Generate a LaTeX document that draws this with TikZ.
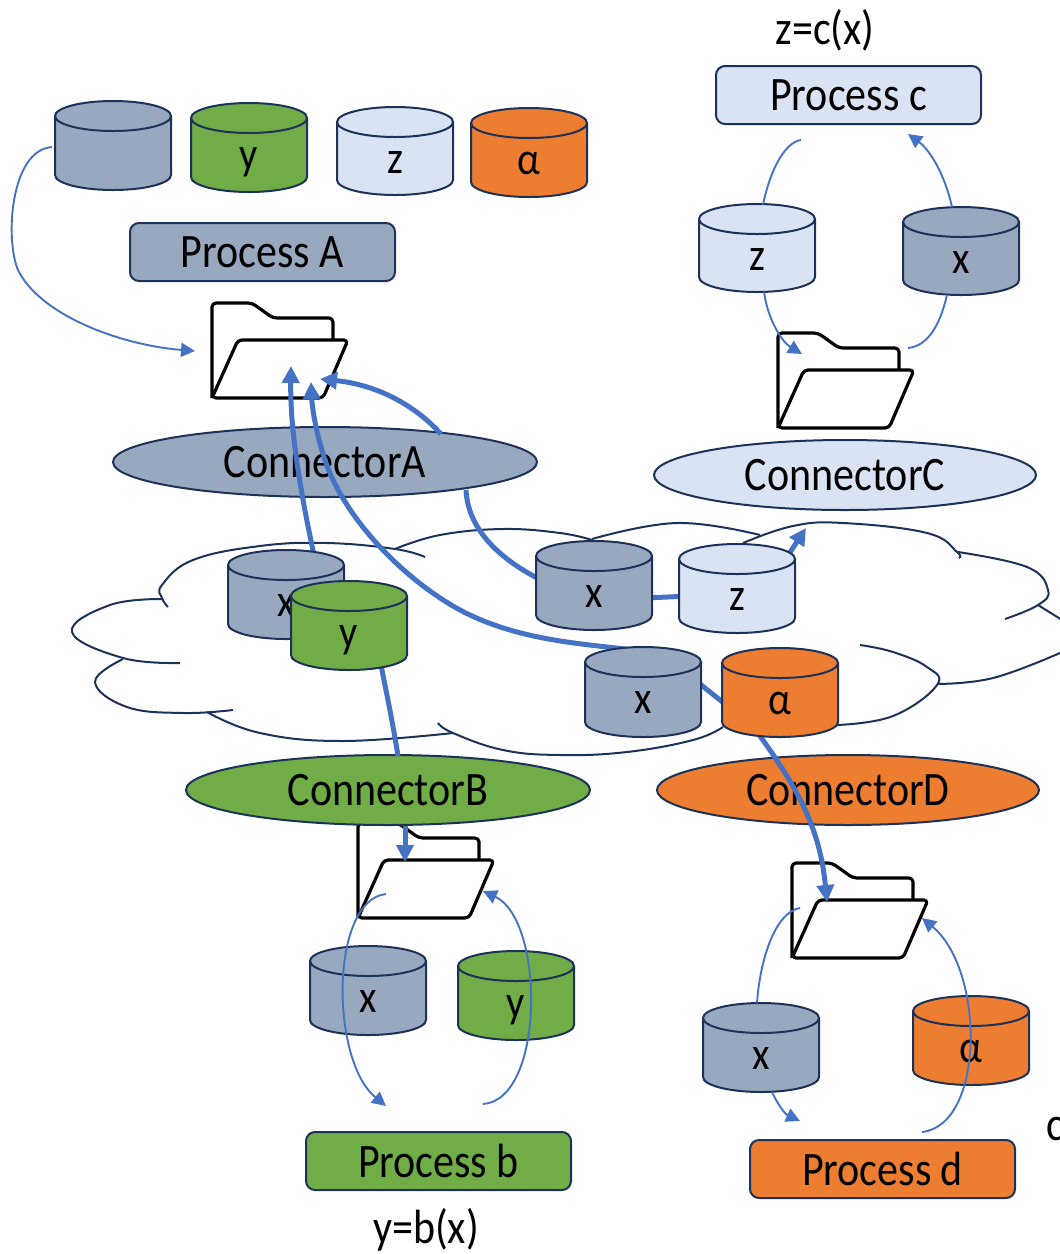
\documentclass[tikz,border=0pt]{standalone}
\usepackage{fontspec}
\setmainfont{Carlito}[FakeStretch=0.875]
\usetikzlibrary{shapes.geometric,arrows.meta}
\definecolor{slateF}{HTML}{98A8BE}
\definecolor{greenF}{HTML}{70AD47}
\definecolor{paleF}{HTML}{DAE3F3}
\definecolor{orangeF}{HTML}{ED7D31}
\definecolor{edgeC}{HTML}{1C3258}
\definecolor{linkC}{HTML}{4472C4}
\tikzset{
  outline/.style={draw=edgeC,line width=2pt},
  procbox/.style={outline,rounded corners=9pt,minimum width=265pt,minimum height=58pt,inner sep=0pt,font=\fontsize{48}{48}\selectfont},
  connell/.style={outline,ellipse,minimum height=70pt,inner sep=0pt,font=\fontsize{48}{48}\selectfont},
  cyllabel/.style={anchor=base,inner sep=0pt,font=\fontsize{46}{46}\selectfont},
  plain/.style={inner sep=0pt,font=\fontsize{48}{48}\selectfont},
  foldline/.style={draw=black,line width=3.2pt,line join=round,rounded corners=4pt},
  cloudline/.style={draw=edgeC,line width=2pt,smooth,tension=0.7},
  thin link/.style={draw=linkC,line width=1.9pt,-{Triangle[length=14pt,width=14pt]}},
  thin plain/.style={draw=linkC,line width=1.9pt},
  thick link/.style={draw=linkC,line width=5pt,-{Triangle[length=17pt,width=17pt]}},
  thick plain/.style={draw=linkC,line width=5pt},
}
\newcommand{\cylinderat}[6]{%
  \draw[outline,fill=#5] ({#2-58},{#3+15}) arc[start angle=180,end angle=360,x radius=58,y radius=15]
    -- ({#2+58},{#4-15}) arc[start angle=0,end angle=180,x radius=58,y radius=15] -- cycle;
  \draw[outline] ({#2-58},{#3+15}) arc[start angle=180,end angle=0,x radius=58,y radius=15];
  \node[cyllabel] (#1) at (#2,{#3+66}) {#6};
}
\newcommand{\folderat}[2]{%
  \draw[foldline] (#1,#2) -- (#1,{#2-95}) -- ({#1+40},{#2-95}) -- ({#1+61},{#2-80}) -- ({#1+121},{#2-80}) -- ({#1+121},{#2-58});
  \draw[foldline] (#1,#2) -- ({#1+26},{#2-58}) -- ({#1+136},{#2-58}) -- ({#1+111},#2) -- cycle;
}
\begin{document}
\begin{tikzpicture}[x=1pt,y=-1pt]
\useasboundingbox (0,0) rectangle (1060,1254);
\clip (0,0) rectangle (1060,1254);
% free ends of the connectors
\coordinate (greyOut) at (52,147);
\coordinate (folderAin) at (195,351);
\coordinate (folderAmid) at (291,366);
\coordinate (folderAright) at (311,382);
\coordinate (folderAside) at (320,379);
\coordinate (cloudX) at (315,560);
\coordinate (elAtop) at (441,434);
\coordinate (elAbot) at (466,490);
\coordinate (cloudXb) at (545,582);
\coordinate (xToZa) at (645,598);
\coordinate (xToZb) at (690,596);
\coordinate (zOut) at (785,560);
\coordinate (cloudArrow) at (806,528);
\coordinate (lowX) at (632,650);
\coordinate (xAa) at (695,680);
\coordinate (xAb) at (730,708);
\coordinate (alphaOut) at (752,725);
\coordinate (folderDin) at (827,902);
\coordinate (yOut) at (380,660);
\coordinate (elBtop) at (398,756);
\coordinate (elBbot) at (405,826);
\coordinate (folderBin) at (405,862);
\coordinate (cTopZ) at (763,205);
\coordinate (cTopZend) at (801,140);
\coordinate (cTopX) at (952,207);
\coordinate (cTopXend) at (908,134);
\coordinate (cZlow) at (764,292);
\coordinate (cZlowEnd) at (802,354);
\coordinate (cXlow) at (947,295);
\coordinate (cXlowEnd) at (908,348);
\coordinate (bA) at (386,894);
\coordinate (bAend) at (386,1106);
\coordinate (bB) at (483,1104);
\coordinate (bBend) at (483,891);
\coordinate (dA) at (800,908);
\coordinate (dAend) at (757,1003);
\coordinate (dB) at (772,1092);
\coordinate (dBend) at (800,1121);
\coordinate (dC) at (922,1132);
\coordinate (dCend) at (922,918);
% folders
\folderat{212}{398}
\folderat{778}{428}
\folderat{358}{918}
\folderat{792}{958}
% connector ellipses
\node[connell,fill=slateF,minimum width=424pt] (connA) at (325,462) {ConnectorA};
\node[connell,fill=paleF,minimum width=382pt] (connC) at (845,475) {ConnectorC};
\node[connell,fill=greenF,minimum width=404pt] (connB) at (388,790) {ConnectorB};
\node[connell,fill=orangeF,minimum width=382pt] (connD) at (848,790) {ConnectorD};
% cloud
\draw[cloudline] plot coordinates {(168,607) (162,598) (162,585) (193,560) (260,546) (327,543) (395,549) (425,557)};
\draw[cloudline] plot coordinates {(162,599) (110,605) (72,632) (123,658) (180,663)};
\draw[cloudline] plot coordinates {(123,659) (95,682) (127,707) (183,713) (233,710)};
\draw[cloudline] plot coordinates {(207,712) (260,733) (343,741) (453,733)};
\draw[cloudline] plot coordinates {(438,723) (453,733) (503,750) (560,755) (627,752) (693,740) (723,727)};
\draw[cloudline] plot coordinates {(837,725) (893,716) (937,685) (927,667) (893,652) (860,645)};
\draw[cloudline] plot coordinates {(937,684) (993,678) (1060,653)};
\draw[cloudline] plot coordinates {(1038,605) (1062,620)};
\draw[cloudline] plot coordinates {(1005,619) (1038,605) (1048,590) (1027,567) (958,552)};
\draw[cloudline] plot coordinates {(959,558) (957,552) (927,533) (843,523) (793,526) (743,543)};
\draw[cloudline] plot coordinates {(760,535) (677,523) (592,539)};
\draw[cloudline] plot coordinates {(395,549) (440,535) (503,529) (560,533) (592,540)};
% thick connectors
\draw[thick link] (cloudX) .. controls (300,490) and (290,430) .. (folderAmid);
\draw[thick link] (lowX) .. controls (590,644) and (520,642) .. (460,610) .. controls (405,580) and (345,520) .. (325,460) .. controls (315,430) and (312,405) .. (folderAright);
\draw[thick link] (elAtop) .. controls (410,400) and (370,384) .. (folderAside);
\draw[thick plain] (elAbot) .. controls (468,530) and (500,560) .. (cloudXb);
\draw[thick plain] (xToZa) -- (xToZb);
\draw[thick link] (zOut) -- (cloudArrow);
\draw[thick plain] (xAa) -- (xAb);
\draw[thick link] (alphaOut) .. controls (800,790) and (820,830) .. (folderDin);
\draw[thick plain] (yOut) .. controls (388,700) and (394,730) .. (elBtop);
\draw[thick link] (elBbot) -- (folderBin);
% boxes
\node[procbox,fill=slateF] (procA) at (262.5,252) {Process A};
\node[procbox,fill=paleF] (procC) at (848.5,95) {Process c};
\node[procbox,fill=greenF] (procB) at (438.5,1161) {Process b};
\node[procbox,fill=orangeF] (procD) at (882.5,1169) {Process d};
% cylinders
\cylinderat{grey0}{113}{101}{190}{slateF}{}
\cylinderat{cylYtop}{249}{103}{192}{greenF}{y}
\cylinderat{cylZtop}{395}{107}{195}{paleF}{z}
\cylinderat{cylAtop}{529}{108}{197}{orangeF}{α}
\cylinderat{cylZc}{757}{204}{292}{paleF}{z}
\cylinderat{cylXc}{961}{207}{295}{slateF}{x}
\cylinderat{cylXa}{286}{550}{639}{slateF}{x}
\cylinderat{cylYb}{349}{581}{670}{greenF}{y}
\cylinderat{cylXm}{594}{541}{630}{slateF}{x}
\cylinderat{cylZm}{737}{544}{633}{paleF}{z}
\cylinderat{cylXl}{643}{647}{737}{slateF}{x}
\cylinderat{cylAl}{780}{648}{737}{orangeF}{α}
\cylinderat{cylXb}{368}{946}{1035}{slateF}{x}
\cylinderat{cylYlow}{516}{951}{1040}{greenF}{y}
\cylinderat{cylXd}{761}{1003}{1092}{slateF}{x}
\cylinderat{cylAd}{971}{996}{1085}{orangeF}{α}
% thin connectors
\draw[thin link] (greyOut) .. controls (10,150) and (5,240) .. (18,270) .. controls (40,315) and (120,345) .. (folderAin);
\draw[thin plain] (cTopZ) .. controls (770,170) and (785,142) .. (cTopZend);
\draw[thin link] (cTopX) .. controls (945,175) and (930,150) .. (cTopXend);
\draw[thin link] (cZlow) .. controls (768,320) and (782,342) .. (cZlowEnd);
\draw[thin plain] (cXlow) .. controls (940,325) and (928,346) .. (cXlowEnd);
\draw[thin link] (bA) .. controls (330,900) and (330,1060) .. (bAend);
\draw[thin link] (bB) .. controls (545,1100) and (545,920) .. (bBend);
\draw[thin plain] (dA) .. controls (775,912) and (760,960) .. (dAend);
\draw[thin link] (dB) .. controls (778,1105) and (785,1114) .. (dBend);
\draw[thin link] (dC) .. controls (985,1125) and (985,970) .. (dCend);
% captions
\node[plain] (capZ) at (825,30) {z=c(x)};
\node[plain] (capY) at (426,1230) {y=b(x)};
\node[plain,anchor=base west] (capD) at (1046,1140) {c};
\end{tikzpicture}
\end{document}
